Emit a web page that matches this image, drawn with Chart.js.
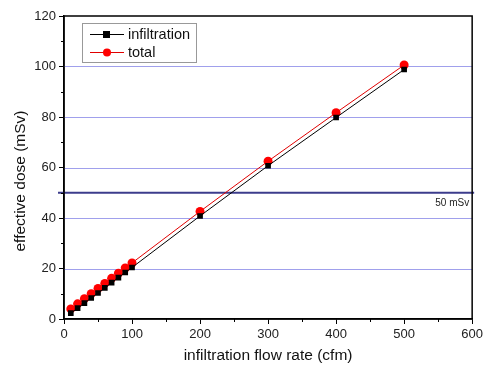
<!DOCTYPE html>
<html>
<head>
<meta charset="utf-8">
<script src="https://cdn.jsdelivr.net/npm/chart.js@4"></script>
<style>
    html, body { margin: 0; padding: 0; background: #fff; }
    #wrap { width: 486px; height: 365px; }
</style>
</head>
<body>
<div id="wrap"><canvas id="doseChart" width="486" height="365"></canvas></div>
<script>
// flow rates (cfm)
const flowRates = [10, 20, 30, 40, 50, 60, 70, 80, 90, 100, 200, 300, 400, 500];
// effective dose (mSv)
const infiltrationDose = [2.3, 4.3, 6.3, 8.3, 10.3, 12.3, 14.4, 16.4, 18.4, 20.4, 40.8, 60.7, 79.8, 98.8];
const totalDose = [4.0, 6.0, 8.0, 10.0, 12.1, 14.1, 16.1, 18.1, 20.2, 22.2, 42.6, 62.5, 81.7, 100.6];
const xTicks = [0, 100, 200, 300, 400, 500, 600];
const yTicks = [0, 20, 40, 60, 80, 100, 120];
const yGridValues = [20, 40, 60, 80, 100];
const limitValue = 50;
const limitLabel = '50 mSv';
const yTitle = 'effective dose (mSv)';

const FONT = "'Liberation Sans', Arial, sans-serif";

function toPoints(xs, ys) {
    return xs.map((x, i) => ({ x: x, y: ys[i] }));
}

// grid, frame, minor ticks, 50 mSv line, y title and legend box
const extrasPlugin = {
    id: 'extras',
    beforeDatasetsDraw(chart) {
        const ctx = chart.ctx;
        const y = chart.scales.y;
        const a = chart.chartArea;
        ctx.save();
        // light blue grid
        ctx.strokeStyle = '#a0a0ec';
        ctx.lineWidth = 1;
        ctx.beginPath();
        yGridValues.forEach(v => {
            const gy = Math.round(y.getPixelForValue(v)) + 0.5;
            ctx.moveTo(a.left, gy);
            ctx.lineTo(a.right, gy);
        });
        ctx.stroke();

        const py = y.getPixelForValue(limitValue);
        ctx.strokeStyle = '#3c3c8c';
        ctx.lineWidth = 2;
        ctx.beginPath();
        ctx.moveTo(a.left - 6, py);
        ctx.lineTo(a.right + 2, py);
        ctx.stroke();
        ctx.fillStyle = '#222';
        ctx.font = '10px ' + FONT;
        ctx.textAlign = 'right';
        ctx.textBaseline = 'middle';
        ctx.fillText(limitLabel, a.right - 3, py + 10);
        ctx.restore();
    },
    afterDraw(chart) {
        const ctx = chart.ctx;
        const a = chart.chartArea;
        const xs = chart.scales.x;
        const ys = chart.scales.y;
        ctx.save();
        // frame
        ctx.strokeStyle = '#000';
        ctx.lineWidth = 1.5;
        ctx.strokeRect(a.left, a.top, a.right - a.left, a.bottom - a.top);
        // minor ticks
        ctx.lineWidth = 1;
        ctx.beginPath();
        for (let v = 50; v < 600; v += 100) {
            const px = Math.round(xs.getPixelForValue(v)) + 0.5;
            ctx.moveTo(px, a.bottom);
            ctx.lineTo(px, a.bottom + 3);
        }
        for (let v = 10; v < 120; v += 20) {
            const py = Math.round(ys.getPixelForValue(v)) + 0.5;
            ctx.moveTo(a.left, py);
            ctx.lineTo(a.left - 3, py);
        }
        ctx.stroke();

        // y title (sits a bit below the middle, like the original)
        ctx.save();
        ctx.translate(21, 181);
        ctx.rotate(-Math.PI / 2);
        ctx.fillStyle = '#111';
        ctx.font = '15.5px ' + FONT;
        ctx.textAlign = 'center';
        ctx.textBaseline = 'middle';
        ctx.fillText(yTitle, 0, 0);
        ctx.restore();

        // legend
        const lx = a.left + 18, ly = a.top + 7, lw = 114, lh = 39;
        ctx.fillStyle = '#fff';
        ctx.fillRect(lx, ly, lw, lh);
        ctx.strokeStyle = '#999';
        ctx.lineWidth = 1;
        ctx.strokeRect(lx + 0.5, ly + 0.5, lw, lh);
        ctx.font = '14.5px ' + FONT;
        ctx.textBaseline = 'middle';
        ctx.textAlign = 'left';
        chart.data.datasets.forEach((ds, i) => {
            const cy = ly + 11 + i * 18;
            ctx.strokeStyle = ds.borderColor;
            ctx.lineWidth = 1;
            ctx.beginPath();
            ctx.moveTo(lx + 8, cy + 0.5);
            ctx.lineTo(lx + 42, cy + 0.5);
            ctx.stroke();
            ctx.fillStyle = ds.pointBackgroundColor;
            if (ds.pointStyle === 'rect') {
                ctx.fillRect(lx + 21, cy - 3, 7, 7);
            } else {
                ctx.beginPath();
                ctx.arc(lx + 25, cy + 0.5, 4, 0, Math.PI * 2);
                ctx.fill();
            }
            ctx.fillStyle = '#111';
            ctx.fillText(ds.label, lx + 46, cy + 1);
        });
        ctx.restore();
    }
};

new Chart(document.getElementById('doseChart').getContext('2d'), {
    type: 'line',
    data: {
        datasets: [
            {
                label: 'infiltration',
                data: toPoints(flowRates, infiltrationDose),
                borderColor: '#000',
                backgroundColor: '#000',
                pointBackgroundColor: '#000',
                pointBorderColor: '#000',
                pointStyle: 'rect',
                pointRadius: 4,
                borderWidth: 1,
                pointBorderWidth: 0
            },
            {
                label: 'total',
                data: toPoints(flowRates, totalDose),
                borderColor: '#e00000',
                backgroundColor: '#ff0000',
                pointBackgroundColor: '#ff0000',
                pointBorderColor: '#ff0000',
                pointStyle: 'circle',
                pointRadius: 4.5,
                borderWidth: 1,
                pointBorderWidth: 0
            }
        ]
    },
    options: {
        responsive: false,
        animation: false,
        events: [],
        layout: { padding: { top: 16, right: 10, left: 0, bottom: 0 } },
        plugins: {
            legend: { display: false },
            tooltip: { enabled: false }
        },
        scales: {
            x: {
                type: 'linear',
                min: 0,
                max: 600,
                afterBuildTicks: s => { s.ticks = xTicks.map(v => ({ value: v })); },
                afterFit: s => { s.height = 46; },
                border: { display: true, color: '#000', width: 1.5 },
                grid: { drawOnChartArea: false, drawTicks: true, tickLength: 5, tickColor: '#000' },
                ticks: { color: '#222', font: { family: FONT, size: 13 }, padding: 3, maxRotation: 0 },
                title: { display: true, text: 'infiltration flow rate (cfm)', color: '#111', font: { family: FONT, size: 15.5 }, padding: { top: 1, bottom: 0 } }
            },
            y: {
                type: 'linear',
                min: 0,
                max: 120,
                afterBuildTicks: s => { s.ticks = yTicks.map(v => ({ value: v })); },
                afterFit: s => { s.width = 64; },
                border: { display: true, color: '#000', width: 1.5 },
                grid: { drawOnChartArea: false, drawTicks: true, tickLength: 5, tickColor: '#000' },
                ticks: { color: '#222', font: { family: FONT, size: 13 }, padding: 3 },
                title: { display: false }
            }
        }
    },
    plugins: [extrasPlugin]
});
</script>
</body>
</html>
